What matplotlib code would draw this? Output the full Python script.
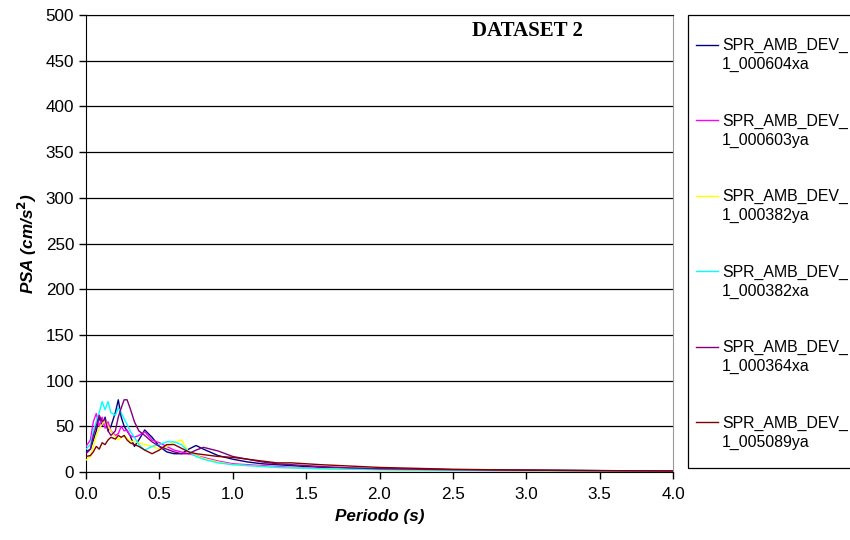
import matplotlib
matplotlib.use("Agg")
import matplotlib.pyplot as plt
from matplotlib.lines import Line2D
from matplotlib.patches import Rectangle

plt.rcParams["font.family"] = ["Liberation Sans", "DejaVu Sans"]

# common period grid (s)
periods = [0.0, 0.03, 0.05, 0.07, 0.09, 0.11, 0.13, 0.15, 0.17, 0.20, 0.22, 0.24, 0.26,
           0.28, 0.30, 0.33, 0.36, 0.40, 0.45, 0.50, 0.55, 0.60, 0.65, 0.70, 0.75, 0.80,
           0.90, 1.00, 1.10, 1.20, 1.30, 1.40, 1.60, 1.80, 2.00, 2.50, 3.00, 3.50, 4.00]

# PSA (cm/s^2) per record
psa_604xa = [22, 25, 35, 45, 60, 50, 60, 45, 50, 65, 79, 60, 50, 45, 40, 28, 35, 46, 38, 28,
             22, 20, 20, 25, 29, 25, 18, 14, 11, 9, 8, 7, 5, 4, 3.5, 2.5, 2, 1.5, 1.2]
psa_603ya = [28, 35, 55, 64, 50, 60, 48, 55, 45, 40, 42, 50, 45, 46, 40, 38, 40, 44, 35, 32,
             28, 24, 22, 20, 18, 16, 12, 9, 8, 7, 6, 5, 4, 3.5, 3, 2, 1.5, 1.2, 1]
psa_382ya = [13, 17, 28, 40, 48, 52, 57, 50, 45, 38, 35, 38, 40, 37, 34, 33, 32, 30, 28, 25,
             28, 32, 35, 22, 18, 15, 11, 8, 7, 6, 5, 4.5, 3.5, 3, 2.5, 2, 1.5, 1.2, 1]
psa_382xa = [25, 30, 45, 55, 65, 77, 68, 77, 65, 62, 70, 65, 58, 52, 45, 38, 30, 24, 28, 30,
             33, 33, 30, 22, 17, 14, 10, 8, 7, 6, 5, 4.5, 3.5, 3, 2.5, 2, 1.5, 1.2, 1]
psa_364xa = [20, 25, 40, 50, 62, 55, 58, 45, 40, 45, 60, 70, 79, 79, 70, 55, 45, 40, 33, 28,
             25, 22, 20, 20, 24, 27, 23, 17, 14, 11, 9, 8, 6, 4.5, 3.5, 2.5, 2, 1.5, 1.2]
psa_5089ya = [17, 18, 22, 28, 25, 32, 30, 35, 38, 36, 40, 38, 40, 35, 32, 30, 28, 24, 20, 24,
              30, 30, 26, 22, 20, 19, 17, 16, 14, 12, 10, 10, 8, 6.5, 5, 3, 2, 1.5, 1]

labels = ["SPR_AMB_DEV_\n1_000604xa", "SPR_AMB_DEV_\n1_000603ya", "SPR_AMB_DEV_\n1_000382ya",
          "SPR_AMB_DEV_\n1_000382xa", "SPR_AMB_DEV_\n1_000364xa", "SPR_AMB_DEV_\n1_005089ya"]
series = [psa_604xa, psa_603ya, psa_382ya, psa_382xa, psa_364xa, psa_5089ya]
colors = ["#000080", "#ff00ff", "#ffff00", "#00ffff", "#800080", "#800000"]

fig = plt.figure(figsize=(8.5, 5.4), dpi=100)
ax = fig.add_axes([86 / 850, 68 / 540, 587 / 850, 457 / 540])

for vals, c in zip(series, colors):
    ax.plot(periods, vals, color=c, lw=1.0, zorder=3)

ax.set_xlim(0, 4)
ax.set_ylim(0, 500)
ax.set_xticks([i * 0.5 for i in range(9)])
ax.set_xticklabels([f"{i * 0.5:.1f}" for i in range(9)])
ax.set_yticks(range(0, 501, 50))
ax.yaxis.grid(True, color="black", lw=0.9)
ax.set_axisbelow(True)
ax.tick_params(axis="both", direction="out", length=5, width=1, labelsize=12.3, color="black")
ax.tick_params(axis="x", pad=6)
for side in ["left", "bottom", "top"]:
    ax.spines[side].set_color("black")
ax.spines["right"].set_color("#999999")

ax.set_xlabel("Periodo (s)", fontsize=12.3, fontweight="bold", fontstyle="italic", labelpad=5)
ax.set_ylabel("PSA (cm/s$^\\mathbf{2}$)", fontsize=12.3, fontweight="bold", fontstyle="italic", labelpad=5)
ax.text(0.752, 0.986, "DATASET 2", transform=ax.transAxes, ha="center", va="top",
        family=["Liberation Serif", "DejaVu Serif"], fontweight="bold", fontsize=15)

# legend box drawn in pixel space, running off the right edge
W, H = 850, 540
fig.add_artist(Rectangle((688 / W, 1 - 468 / H), 200 / W, 453 / H, transform=fig.transFigure,
                         facecolor="white", edgecolor="black", lw=0.9, clip_on=False))
for i, (lab, c) in enumerate(zip(labels, colors)):
    y = 44.5 + i * 75.5
    fig.add_artist(Line2D([696 / W, 718 / W], [1 - y / H] * 2, transform=fig.transFigure,
                          color=c, lw=1.0))
    fig.text(722 / W, 1 - (y - 6.5) / H, lab, ha="left", va="top", fontsize=11.4,
             linespacing=1.33)

fig.savefig("out.png", dpi=100)
